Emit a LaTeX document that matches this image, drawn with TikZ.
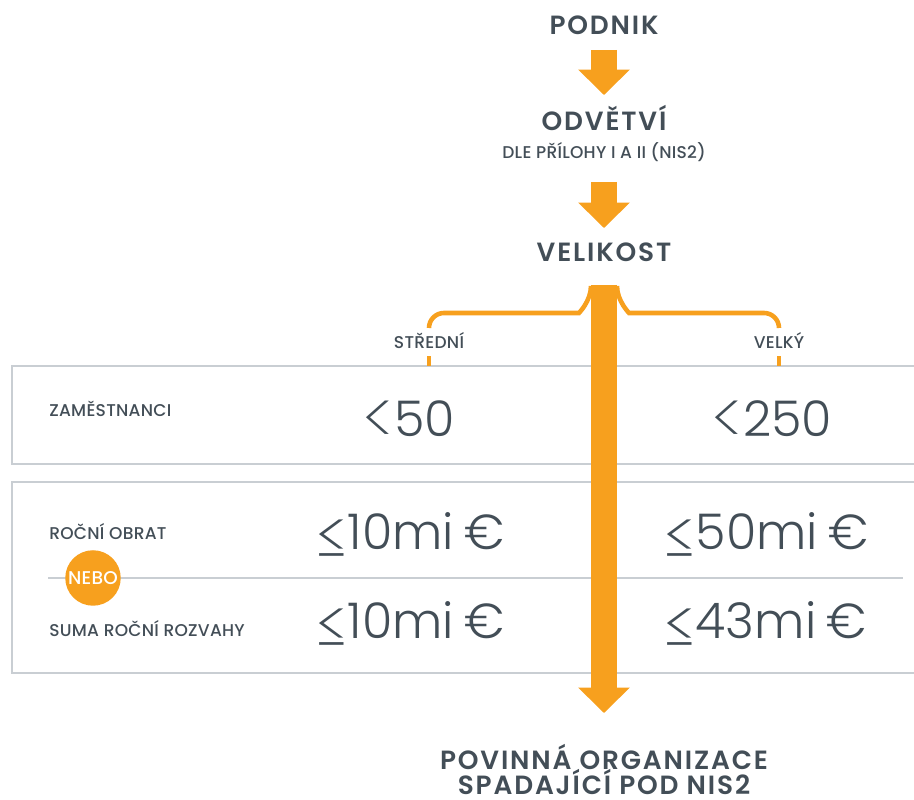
\documentclass[tikz,border=0pt]{standalone}
\usepackage{fontspec}
\setmainfont{Poppins}
\newfontfamily\headfont[LetterSpace=7]{Poppins SemiBold}
\newfontfamily\labelfont[LetterSpace=1.5]{Poppins Medium}
\newfontfamily\numfont{Poppins Light}
\newfontfamily\numsym{Poppins ExtraLight}
\usetikzlibrary{arrows.meta}
\definecolor{nisorange}{HTML}{F7A01E}
\definecolor{nistext}{HTML}{434E57}
\definecolor{nisline}{HTML}{C9CED3}
% full height < and <= for the limits
\newcommand\numlt{\raisebox{-4.5pt}{\scalebox{1.45}{\numsym <}}}
\newcommand\numle{\raisebox{-8.6pt}{\scalebox{1.52}{\numsym ≤}}}
\newcommand\eur{\hspace{0.21em}€}
% keep the two result lines at a fixed distance despite accents
\newcommand\tightlines{\lineskiplimit=-50pt\lineskip=0pt\relax}

\begin{document}
\begin{tikzpicture}[x=0.02cm,y=0.02cm,
  headtext/.style={text=nistext, font=\headfont\fontsize{15}{14.2}\selectfont\tightlines, anchor=base, inner sep=0pt},
  labeltext/.style={text=nistext, font=\labelfont\fontsize{9.7}{12}\selectfont, anchor=base, inner sep=0pt},
  numtext/.style={text=nistext, font=\numfont\fontsize{28}{32}\selectfont, anchor=base, inner sep=0pt},
  boxline/.style={nisline, line width=1.1pt},
  flow/.style={nisorange, line width=14.7pt, -{Triangle[width=29.5pt,length=14.5pt,line width=0pt]}},
  bracket/.style={nisorange, line width=2.6pt, rounded corners=0.3cm}]
\useasboundingbox (0,0) rectangle (914,800);

% boxes
\draw [boxline] (914,434) -- (12,434) -- (12,336) -- (914,336);
\draw [boxline] (914,318) -- (12,318) -- (12,127) -- (914,127);
\draw [boxline] (48,222) -- (903,222);

% steps
\node [headtext] (podnik) at (604,765) {PODNIK};
\node [headtext] (odvetvi) at (604,669) {ODVĚTVÍ};
\node [labeltext] (priloha) at (604,641) {DLE PŘÍLOHY I A II (NIS2)};
\node [headtext] (velikost) at (604,538) {VELIKOST};
\node [headtext, anchor=south, align=center] (povinna) at (604,5) {POVINNÁ ORGANIZACE\\SPADAJÍCÍ POD NIS2};

\coordinate (a1) at (604,750);
\coordinate (b1) at (604,705);
\coordinate (a2) at (604,618);
\coordinate (b2) at (604,572);
\coordinate (a3) at (604,515);
\coordinate (b3) at (604,87);
\draw [flow] (a1) -- (b1);
\draw [flow] (a2) -- (b2);

% size split
\draw [bracket] (429,472) -- (429,487) -- (564,487) arc[start angle=270, end angle=360, radius=0.54cm];
\draw [bracket] (779,472) -- (779,487) -- (644,487) arc[start angle=270, end angle=180, radius=0.54cm];
\node [labeltext] (stredni) at (429,451) {STŘEDNÍ};
\node [labeltext] (velky) at (779,451) {VELKÝ};
\draw [nisorange, line width=2.8pt] (429,434) -- (429,444);
\draw [nisorange, line width=2.8pt] (779,434) -- (779,444);

% rows
\node [labeltext, anchor=base west] (zam) at (49,383) {ZAMĚSTNANCI};
\node [numtext] (zamS) at (409,363) {\numlt50};
\node [numtext] (zamL) at (772,363) {\numlt250};
\node [labeltext, anchor=base west] (obrat) at (49,260) {ROČNÍ OBRAT};
\node [numtext, anchor=base west] (obratS) at (315,250) {\numle10mi\eur};
\node [numtext, anchor=base west] (obratL) at (663,250) {\numle50mi\eur};
\node [labeltext, anchor=base west] (rozvaha) at (49,163) {SUMA ROČNÍ ROZVAHY};
\node [numtext, anchor=base west] (rozvahaS) at (315,161) {\numle10mi\eur};
\node [numtext, anchor=base west] (rozvahaL) at (663,161) {\numle43mi\eur};

\draw [flow] (a3) -- (b3);

\node [circle, fill=nisorange, minimum size=1.11cm, inner sep=0pt, text=white,
  font=\labelfont\fontsize{10.5}{12}\selectfont] (nebo) at (93,222) {NEBO};
\end{tikzpicture}
\end{document}
